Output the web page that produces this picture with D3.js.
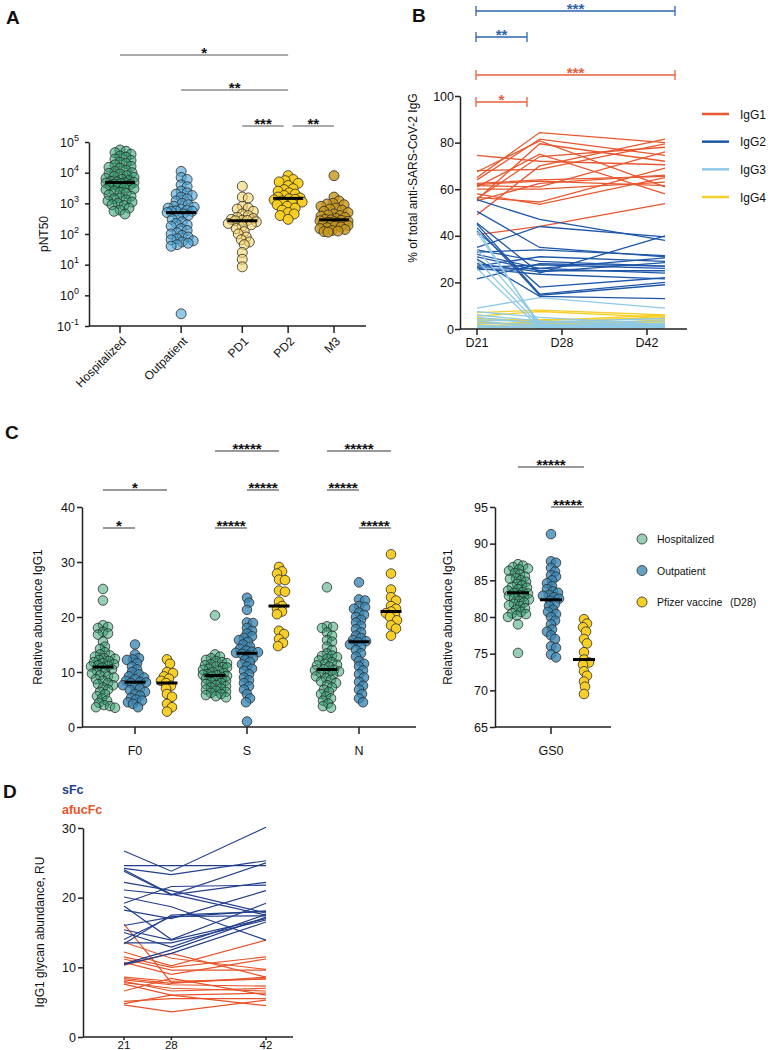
<!DOCTYPE html>
<html><head><meta charset="utf-8">
<script src="https://cdn.jsdelivr.net/npm/d3@7"></script>
<style>
body{margin:0;background:#fff}
svg{display:block}
text{font-family:"Liberation Sans",Arial,Helvetica,sans-serif;fill:#111}
</style>
</head><body>
<svg id="chart" width="771" height="1050"></svg>
<script>
// ================= DATA =================
// ---- Panel A (pNT50) ----
const aCategories = ["Hospitalized", "Outpatient", "PD1", "PD2", "M3"];
const aHospitalized = [55000, 50000, 45000, 40000, 35000, 32000, 28000, 25000, 22000, 20000, 18000, 16000, 15000, 14000, 12000, 11000, 10000, 9500, 9000, 8000, 7500, 7000, 6500, 6000, 5500, 5200, 5000, 4800, 4700, 4600, 4400, 4200, 4000, 3800, 3500, 3200, 3000, 2800, 2500, 2300, 2100, 1900, 1700, 1500, 1400, 1300, 1200, 1100, 1000, 900, 850, 700, 600, 550, 450];
const aOutpatient = [11000, 7000, 6000, 4000, 3500, 2500, 2200, 2000, 1800, 1600, 1400, 1200, 1000, 900, 800, 750, 700, 650, 600, 560, 550, 540, 500, 450, 400, 350, 300, 250, 220, 200, 180, 150, 130, 110, 100, 90, 80, 70, 65, 60, 55, 50, 45, 40, 0.25];
const aPD1 = [3600, 1600, 1500, 800, 700, 650, 550, 450, 400, 350, 320, 300, 280, 275, 270, 250, 220, 200, 180, 150, 120, 100, 80, 65, 55, 45, 25, 15, 8.5];
const aPD2 = [8000, 6000, 5500, 5000, 4500, 3800, 3000, 2800, 2500, 2200, 2000, 1800, 1600, 1500, 1400, 1350, 1300, 1200, 1100, 1000, 900, 800, 700, 600, 500, 450, 400, 300];
const aM3 = [8000, 1600, 1200, 1000, 950, 900, 800, 700, 650, 600, 550, 500, 450, 420, 400, 380, 350, 320, 300, 290, 280, 270, 260, 250, 240, 230, 220, 210, 200, 190, 180, 170, 160, 150, 140, 130, 125, 120, 115];
const aYTickExponents = [-1, 0, 1, 2, 3, 4, 5];
const aSignificance = [
  {from: "Hospitalized", to: "PD2", label: "*", level: 3},
  {from: "Outpatient", to: "PD2", label: "**", level: 2},
  {from: "PD1", to: "PD2", label: "***", level: 1},
  {from: "PD2", to: "M3", label: "**", level: 1}
];

// ---- Panel B (% of total anti-SARS-CoV-2 IgG; D21, D28, D42) ----
const bDays = ["D21", "D28", "D42"];
const bDayNumbers = [21, 28, 42];
const bSubclasses = ["IgG1", "IgG2", "IgG3", "IgG4"];
const bIgG1 = [[74.5,72.0,70.5],[68.0,68.5,79.5],[67.5,80.7,61.0],[65.0,84.3,80.0],[64.0,81.5,74.5],[62.5,64.0,65.5],[62.0,63.5,61.5],[61.0,75.0,58.0],[60.0,60.0,63.0],[56.0,74.0,78.0],[55.5,79.5,72.0],[55.0,62.5,66.0],[56.5,54.5,69.0],[49.0,70.0,81.5],[40.5,44.0,53.8],[58.0,53.5,65.0],[61.5,61.0,76.0]];
const bIgG2 = [[55.5,47.0,38.0],[50.5,35.0,31.0],[45.5,24.0,40.0],[45.0,15.0,20.0],[43.5,14.5,19.0],[42.0,18.0,22.0],[35.0,44.0,39.5],[34.0,29.0,27.0],[33.0,34.0,31.5],[32.0,26.0,30.5],[31.0,25.0,25.0],[30.0,14.0,13.0],[28.0,24.5,28.5],[27.0,31.0,29.0],[26.5,27.5,26.0],[26.0,23.5,21.5],[25.5,26.0,24.0],[21.5,28.0,27.0]];
const bIgG3 = [[43.0,1.0,0.5],[41.5,2.0,1.0],[34.0,3.0,2.0],[29.5,1.5,0.5],[26.0,0.5,1.5],[9.0,13.5,9.0],[7.5,5.0,2.0],[6.0,3.5,1.0],[5.0,2.5,3.5],[3.5,1.0,2.5],[2.5,2.0,0.5],[1.5,0.5,1.0],[1.0,1.5,2.0],[0.5,0.8,1.2],[4.0,3.0,4.5]];
const bIgG4 = [[7.0,8.1,6.0],[5.5,7.5,5.0],[4.5,3.5,6.0],[3.5,4.0,4.5],[2.5,2.0,5.5],[2.0,3.0,3.0],[1.5,1.0,4.0],[1.0,2.5,2.0],[3.0,1.5,1.0],[0.5,0.5,3.5]];
const bYTicks = [0, 20, 40, 60, 80, 100];
const bSignificance = [
  {from: 21, to: 42, label: "***", subclass: "IgG2", level: 4},
  {from: 21, to: 28, label: "**", subclass: "IgG2", level: 3},
  {from: 21, to: 42, label: "***", subclass: "IgG1", level: 2},
  {from: 21, to: 28, label: "*", subclass: "IgG1", level: 1}
];

// ---- Panel C (relative abundance IgG1) ----
const cAntigens = ["F0", "S", "N"];
const cGroups = ["Hospitalized", "Outpatient", "Pfizer vaccine"];
const cGroupNote = "(D28)";
const cF0Hospitalized = [25.1, 23.0, 18.5, 18.2, 18.0, 17.3, 17.0, 16.8, 15.5, 14.6, 14.2, 13.6, 13.2, 13.0, 12.8, 12.5, 12.4, 12.2, 12.0, 11.8, 11.6, 11.4, 11.2, 11.1, 11.0, 10.8, 10.5, 10.2, 10.0, 9.7, 9.4, 9.2, 9.0, 8.7, 8.4, 8.0, 7.8, 7.6, 7.2, 6.8, 6.4, 6.0, 5.6, 5.2, 4.8, 4.4, 4.0, 3.8, 3.6, 3.5];
const cF0Outpatient = [15.0, 13.2, 12.5, 12.3, 12.2, 11.6, 11.0, 10.5, 10.0, 9.6, 9.2, 9.0, 8.7, 8.4, 8.2, 8.1, 8.0, 7.6, 7.3, 7.0, 6.7, 6.4, 6.0, 5.7, 5.3, 5.0, 4.8, 4.5, 4.2, 3.6];
const cF0Pfizer = [12.3, 11.5, 10.0, 9.8, 9.2, 8.8, 8.4, 8.0, 7.5, 7.0, 6.0, 5.5, 4.2, 3.6, 2.8];
const cSHospitalized = [20.3, 13.2, 12.8, 12.5, 12.2, 12.0, 11.8, 11.6, 11.4, 11.2, 11.0, 10.9, 10.8, 10.6, 10.4, 10.2, 10.0, 9.8, 9.6, 9.5, 9.4, 9.3, 9.2, 9.0, 8.8, 8.6, 8.4, 8.2, 8.0, 7.8, 7.6, 7.4, 7.2, 7.0, 6.8, 6.6, 6.4, 6.2, 6.0, 5.8, 5.6, 5.4];
const cSOutpatient = [23.5, 22.6, 21.3, 19.0, 18.9, 18.0, 17.5, 17.0, 16.5, 16.2, 15.8, 15.5, 15.0, 14.6, 14.2, 13.9, 13.7, 13.6, 13.5, 13.3, 13.0, 12.6, 12.2, 11.8, 11.4, 11.0, 10.6, 10.2, 9.6, 9.0, 8.5, 8.0, 7.4, 6.8, 6.0, 5.2, 4.5, 1.0];
const cSPfizer = [29.1, 28.3, 27.9, 26.8, 26.7, 24.8, 24.6, 22.8, 22.0, 21.5, 21.0, 20.5, 17.5, 16.9, 16.0, 15.3, 14.7];
const cNHospitalized = [25.4, 18.3, 18.2, 18.0, 17.2, 16.6, 15.8, 15.5, 14.6, 14.0, 13.4, 13.0, 12.9, 12.7, 12.4, 12.1, 11.8, 11.5, 11.3, 11.2, 11.0, 10.5, 10.4, 10.3, 10.1, 9.8, 9.7, 9.5, 9.2, 8.9, 8.6, 8.3, 8.0, 7.6, 7.2, 6.8, 6.4, 6.0, 5.6, 5.2, 4.8, 4.3, 3.8, 3.5];
const cNOutpatient = [26.3, 23.2, 23.0, 22.0, 21.8, 21.5, 20.8, 20.4, 20.0, 19.5, 19.0, 18.4, 17.8, 17.2, 16.6, 16.2, 15.8, 15.6, 15.4, 15.0, 14.6, 14.0, 13.4, 12.8, 12.0, 11.5, 11.0, 10.3, 9.6, 9.0, 8.2, 7.5, 6.8, 6.0, 5.2, 4.5];
const cNPfizer = [31.4, 27.9, 25.0, 23.6, 23.0, 22.0, 21.5, 21.0, 20.7, 20.3, 20.0, 19.4, 18.5, 17.9, 16.6];
const cGS0Hospitalized = [87.2, 87.0, 86.8, 86.6, 86.5, 86.3, 86.0, 85.8, 85.5, 85.3, 85.2, 85.0, 84.8, 84.5, 84.3, 84.1, 84.0, 83.8, 83.6, 83.4, 83.3, 83.2, 83.0, 82.9, 82.8, 82.6, 82.4, 82.2, 82.0, 81.8, 81.6, 81.5, 81.2, 81.0, 80.7, 80.5, 80.4, 80.2, 80.0, 79.0, 75.1];
const cGS0Outpatient = [91.3, 87.6, 87.4, 86.7, 86.2, 85.7, 85.5, 85.0, 84.6, 84.2, 83.8, 83.5, 83.3, 83.0, 82.9, 82.7, 82.5, 82.2, 81.8, 81.5, 81.0, 80.7, 80.4, 80.0, 79.5, 79.0, 78.3, 78.0, 77.5, 77.0, 76.0, 75.8, 74.9, 74.5];
const cGS0Pfizer = [79.7, 79.1, 78.6, 78.0, 77.0, 76.4, 75.2, 74.2, 73.8, 73.5, 72.6, 72.0, 71.2, 70.5, 69.5];
const cLeftYTicks = [0, 10, 20, 30, 40];
const cRightYTicks = [65, 70, 75, 80, 85, 90, 95];
const cSignificance = [
  {antigen: "F0", from: 0, to: 1, label: "*", level: 1},
  {antigen: "F0", from: 0, to: 2, label: "*", level: 2},
  {antigen: "S", from: 0, to: 1, label: "*****", level: 1},
  {antigen: "S", from: 1, to: 2, label: "*****", level: 2},
  {antigen: "S", from: 0, to: 2, label: "*****", level: 3},
  {antigen: "N", from: 1, to: 2, label: "*****", level: 1},
  {antigen: "N", from: 0, to: 1, label: "*****", level: 2},
  {antigen: "N", from: 0, to: 2, label: "*****", level: 3},
  {antigen: "GS0", from: 1, to: 2, label: "*****", level: 1},
  {antigen: "GS0", from: 0, to: 2, label: "*****", level: 2}
];

// ---- Panel D (IgG1 glycan abundance, RU; days 21, 28, 42) ----
const dDays = [21, 28, 42];
const dSFc = [[26.7,23.8,30.1],[24.6,24.6,24.6],[24.2,23.3,25.3],[24.0,20.5,17.5],[23.8,20.4,25.0],[22.2,21.0,17.8],[21.1,20.4,22.2],[20.1,18.7,13.9],[19.2,21.6,21.8],[18.8,14.0,19.2],[18.2,17.0,21.0],[16.0,17.2,18.1],[15.4,13.9,17.0],[15.0,12.9,17.6],[14.0,17.3,17.4],[13.5,13.5,16.8],[13.4,17.5,18.0],[10.5,12.5,17.2],[10.4,12.0,16.5]];
const dAfucFc = [[16.2,7.8,8.4],[13.6,11.3,9.7],[12.2,10.2,13.9],[11.5,10.0,11.5],[11.2,9.6,9.6],[10.7,9.0,11.2],[10.3,12.0,8.6],[8.6,8.0,8.3],[8.4,7.7,8.6],[8.2,7.5,7.3],[8.0,6.6,7.0],[7.8,7.0,6.6],[7.6,6.0,6.3],[6.6,8.4,6.0],[5.1,5.5,5.5],[4.8,6.0,4.5],[4.6,3.6,5.3]];
const dYTicks = [0, 10, 20, 30];

// ================= DRAWING =================
const svg = d3.select("#chart");
const AXC = "#231f20";
const STROKE = "#2b2b2b";

function panelLetter(x, y, t) {
  svg.append("text").attr("x", x).attr("y", y).attr("font-size", 19).attr("font-weight", "bold").text(t);
}
function hLine(g, x1, x2, y, color, w) {
  g.append("line").attr("x1", x1).attr("x2", x2).attr("y1", y).attr("y2", y).attr("stroke", color).attr("stroke-width", w);
}
function vLine(g, x, y1, y2, color, w) {
  g.append("line").attr("x1", x).attr("x2", x).attr("y1", y1).attr("y2", y2).attr("stroke", color).attr("stroke-width", w);
}
function starText(g, x, y, label, color) {
  g.append("text").attr("x", x).attr("y", y).attr("text-anchor", "middle").attr("font-size", 15)
   .attr("font-weight", "bold").style("fill", color).text(label);
}
// deterministic beeswarm offsets
function swarm(values, yScale, maxW, minD) {
  const items = values.map((v, i) => ({v, y: yScale(v), i, x: 0}));
  const sorted = items.slice().sort((a, b) => a.y - b.y);
  const placed = [];
  for (const it of sorted) {
    const cands = [0];
    for (let k = 1; k <= maxW; k += 1) cands.push(k, -k);
    let best = 0, bestScore = -Infinity;
    for (const c of cands) {
      let md = Infinity;
      for (const p of placed) {
        const dy = p.y - it.y;
        if (Math.abs(dy) >= minD) continue;
        const d = Math.hypot(p.x - c, dy);
        if (d < md) md = d;
      }
      if (md >= minD) { best = c; bestScore = md; break; }
      if (md > bestScore) { bestScore = md; best = c; }
    }
    it.x = best;
    placed.push(it);
  }
  return items;
}
function dots(g, values, cx, yScale, style, r, maxW, minD, medHalf) {
  const pts = swarm(values, yScale, maxW, minD);
  g.append("g").selectAll("circle").data(pts).join("circle")
    .attr("cx", d => cx + d.x).attr("cy", d => d.y).attr("r", r)
    .attr("fill", style.fill).attr("fill-opacity", style.op)
    .attr("stroke", STROKE).attr("stroke-width", 0.8);
  const med = d3.median(values);
  hLine(g, cx - medHalf, cx + medHalf, yScale(med), "#000", 3);
}

// ---------------- Panel A ----------------
(function () {
  const g = svg.append("g");
  panelLetter(6, 24, "A");
  const yA = d3.scaleLog().domain([0.1, 1e5]).range([326, 142]);
  const slot = {Hospitalized: 0, Outpatient: 1, PD1: 2, PD2: 2.75, M3: 3.5};
  const xA = d3.scaleLinear().domain([0, 3.5]).range([120, 334]);
  const cx = c => xA(slot[c]);
  const styles = {
    Hospitalized: {fill: "#2e9e6e", op: 0.55},
    Outpatient: {fill: "#4aa3d6", op: 0.6},
    PD1: {fill: "#f5d36a", op: 0.6},
    PD2: {fill: "#f9cf1c", op: 0.95},
    M3: {fill: "#c8961a", op: 0.8}
  };
  const series = {Hospitalized: aHospitalized, Outpatient: aOutpatient, PD1: aPD1, PD2: aPD2, M3: aM3};
  const ax = g.append("g").attr("transform", "translate(89,0)")
    .call(d3.axisLeft(yA).tickValues(aYTickExponents.map(e => Math.pow(10, e))).tickFormat("").tickSize(4).tickSizeOuter(0));
  ax.select(".domain").attr("stroke", AXC).attr("stroke-width", 1.5);
  ax.selectAll(".tick line").attr("stroke", AXC).attr("stroke-width", 1.5);
  aYTickExponents.forEach(e => {
    const t = g.append("text").attr("x", 79).attr("y", yA(Math.pow(10, e)) + 4.5).attr("text-anchor", "end").attr("font-size", 12.5);
    t.append("tspan").text("10");
    t.append("tspan").attr("dy", -6).attr("font-size", 9).text(String(e));
  });
  hLine(g, 89, 366, 326, AXC, 1.5);
  aCategories.forEach(c => {
    vLine(g, cx(c), 326, 333, AXC, 1.5);
    g.append("text").attr("transform", `translate(${cx(c) + 4},${339}) rotate(-45)`)
      .attr("text-anchor", "end").attr("dy", "0.35em").attr("font-size", 12).text(c);
  });
  g.append("text").attr("transform", "translate(48,234) rotate(-90)").attr("text-anchor", "middle")
    .attr("font-size", 12).text("pNT50");
  aCategories.forEach(c => dots(g, series[c], cx(c), yA, styles[c], 5, 14, 5.6, 15));
  const levelY = {1: 126, 2: 90, 3: 55};
  aSignificance.forEach(s => {
    let x1 = cx(s.from), x2 = cx(s.to);
    const shares = (pt, self) => aSignificance.some(o => o !== self && o.level === self.level && (o.from === pt || o.to === pt));
    if (shares(s.from, s)) x1 += 4.5;
    if (shares(s.to, s)) x2 -= 4.5;
    const y = levelY[s.level];
    hLine(g, x1, x2, y, "#555", 1.2);
    starText(g, (x1 + x2) / 2, y + 2.5, s.label, "#111");
  });
})();

// ---------------- Panel B ----------------
(function () {
  const g = svg.append("g");
  panelLetter(412, 22, "B");
  const yB = d3.scaleLinear().domain([0, 100]).range([329, 96]);
  const xAxisB = d3.scalePoint().domain(bDays).range([477, 647]);
  const xLineB = d3.scaleLinear().domain([21, 42]).range([477, 665]);
  const xBracket = d3.scaleLinear().domain([21, 28, 42]).range([476, 527, 675]);
  const colors = {IgG1: "#e8572f", IgG2: "#1f57a8", IgG3: "#8ecae6", IgG4: "#f7cf2b"};
  const sigColors = {IgG1: "#e8603c", IgG2: "#2e64b0"};
  const data = {IgG1: bIgG1, IgG2: bIgG2, IgG3: bIgG3, IgG4: bIgG4};
  const line = d3.line().x((d, i) => xLineB(bDayNumbers[i])).y(d => yB(d));
  ["IgG1", "IgG2", "IgG4", "IgG3"].forEach(k => {
    g.append("g").selectAll("path").data(data[k]).join("path")
      .attr("d", line).attr("fill", "none").attr("stroke", colors[k]).attr("stroke-width", 1.3);
  });
  const ay = g.append("g").attr("transform", "translate(460,0)")
    .call(d3.axisLeft(yB).tickValues(bYTicks).tickSize(5).tickSizeOuter(0));
  ay.select(".domain").attr("stroke", AXC).attr("stroke-width", 1.5);
  ay.selectAll(".tick line").attr("stroke", AXC).attr("stroke-width", 1.5);
  ay.selectAll(".tick text").attr("font-size", 12.5).attr("font-family", "Liberation Sans, Arial, sans-serif").attr("x", -6).style("fill", "#111");
  hLine(g, 460, 687, 329, AXC, 1.5);
  bDays.forEach(d => {
    vLine(g, xAxisB(d), 329, 335, AXC, 1.5);
    g.append("text").attr("x", xAxisB(d)).attr("y", 347).attr("text-anchor", "middle").attr("font-size", 12.5).text(d);
  });
  g.append("text").attr("transform", "translate(417,178) rotate(-90)").attr("text-anchor", "middle")
    .attr("font-size", 12).text("% of total anti-SARS-CoV-2 IgG");
  const levelY = {1: 102, 2: 75, 3: 37, 4: 11};
  bSignificance.forEach(s => {
    const y = levelY[s.level], c = sigColors[s.subclass];
    const x1 = xBracket(s.from), x2 = xBracket(s.to);
    hLine(g, x1, x2, y, c, 1.3);
    vLine(g, x1, y - 5, y + 5, c, 1.3);
    vLine(g, x2, y - 5, y + 5, c, 1.3);
    starText(g, (x1 + x2) / 2, y + 3, s.label, c);
  });
  const lg = d3.scalePoint().domain(bSubclasses).range([114, 197]);
  bSubclasses.forEach(k => {
    hLine(g, 702, 729, lg(k), colors[k], 2.5);
    g.append("text").attr("x", 740).attr("y", lg(k) + 4.5).attr("font-size", 12).text(k);
  });
})();

// ---------------- Panel C ----------------
(function () {
  const g = svg.append("g");
  panelLetter(5, 439, "C");
  const yL = d3.scaleLinear().domain([0, 40]).range([727, 507]);
  const yR = d3.scaleLinear().domain([65, 95]).range([727, 507]);
  const xAg = d3.scalePoint().domain(cAntigens).range([135, 359]);
  const xGrp = d3.scalePoint().domain([0, 1, 2]).range([-32, 32]);
  const xGS0 = 551, xGrpR = d3.scalePoint().domain([0, 1, 2]).range([-33, 33]);
  const styles = [{fill: "#2e9e6e", op: 0.5}, {fill: "#3a86b4", op: 0.78}, {fill: "#f8cf26", op: 1}];
  const series = {
    F0: [cF0Hospitalized, cF0Outpatient, cF0Pfizer],
    S: [cSHospitalized, cSOutpatient, cSPfizer],
    N: [cNHospitalized, cNOutpatient, cNPfizer]
  };
  const gs0 = [cGS0Hospitalized, cGS0Outpatient, cGS0Pfizer];
  function yAxis(x, scale, ticks) {
    const a = g.append("g").attr("transform", `translate(${x},0)`)
      .call(d3.axisLeft(scale).tickValues(ticks).tickSize(5).tickSizeOuter(0));
    a.select(".domain").attr("stroke", AXC).attr("stroke-width", 1.5);
    a.selectAll(".tick line").attr("stroke", AXC).attr("stroke-width", 1.5);
    a.selectAll(".tick text").attr("font-size", 12.5).attr("font-family", "Liberation Sans, Arial, sans-serif").attr("x", -7).style("fill", "#111");
  }
  yAxis(82, yL, cLeftYTicks);
  yAxis(495, yR, cRightYTicks);
  hLine(g, 82, 416, 727, AXC, 1.5);
  hLine(g, 495, 611, 727, AXC, 1.5);
  cAntigens.forEach(a => {
    vLine(g, xAg(a), 727, 734, AXC, 1.5);
    g.append("text").attr("x", xAg(a)).attr("y", 755).attr("text-anchor", "middle").attr("font-size", 12.5).text(a);
  });
  vLine(g, xGS0, 727, 734, AXC, 1.5);
  g.append("text").attr("x", xGS0).attr("y", 755).attr("text-anchor", "middle").attr("font-size", 12.5).text("GS0");
  [[42, 617], [452, 617]].forEach(([x, y]) => {
    g.append("text").attr("transform", `translate(${x},${y}) rotate(-90)`).attr("text-anchor", "middle")
      .attr("font-size", 12).text("Relative abundance IgG1");
  });
  cAntigens.forEach(a => series[a].forEach((vals, i) =>
    dots(g, vals, xAg(a) + xGrp(i), yL, styles[i], 4.8, 12, 5.2, 10.5)));
  gs0.forEach((vals, i) => dots(g, vals, xGS0 + xGrpR(i), yR, styles[i], 4.8, 12, 5.2, 11));
  const levL = {1: 528, 2: 490, 3: 451}, levR = {1: 507, 2: 467};
  cSignificance.forEach(s => {
    let x1, x2, y;
    if (s.antigen === "GS0") { x1 = xGS0 + xGrpR(s.from); x2 = xGS0 + xGrpR(s.to); y = levR[s.level]; }
    else { x1 = xAg(s.antigen) + xGrp(s.from); x2 = xAg(s.antigen) + xGrp(s.to); y = levL[s.level]; }
    hLine(g, x1, x2, y, "#777", 1.5);
    starText(g, (x1 + x2) / 2, y + 2.5, s.label, "#111");
  });
  const lgY = d3.scalePoint().domain([0, 1, 2]).range([539, 602]);
  cGroups.forEach((name, i) => {
    g.append("circle").attr("cx", 642).attr("cy", lgY(i)).attr("r", 5).attr("fill", styles[i].fill)
      .attr("fill-opacity", styles[i].op).attr("stroke", STROKE).attr("stroke-width", 0.8);
    g.append("text").attr("x", 657).attr("y", lgY(i) + 4).attr("font-size", 10.5).text(name);
    if (i === 2) g.append("text").attr("x", 730).attr("y", lgY(i) + 4).attr("font-size", 10.5).text(cGroupNote);
  });
})();

// ---------------- Panel D ----------------
(function () {
  const g = svg.append("g");
  panelLetter(3, 798, "D");
  g.append("text").attr("x", 62).attr("y", 794).attr("font-size", 12.5).attr("font-weight", "bold").style("fill", "#233f8c").text("sFc");
  g.append("text").attr("x", 62).attr("y", 814).attr("font-size", 12.5).attr("font-weight", "bold").style("fill", "#e8542a").text("afucFc");
  const yD = d3.scaleLinear().domain([0, 30]).range([1037, 828]);
  const xD = d3.scaleLinear().domain([21, 42]).range([124, 266]);
  const line = d3.line().x((d, i) => xD(dDays[i])).y(d => yD(d));
  g.append("g").selectAll("path").data(dAfucFc).join("path").attr("d", line)
    .attr("fill", "none").attr("stroke", "#e8542a").attr("stroke-width", 1.2);
  g.append("g").selectAll("path").data(dSFc).join("path").attr("d", line)
    .attr("fill", "none").attr("stroke", "#233f8c").attr("stroke-width", 1.2);
  const a = g.append("g").attr("transform", "translate(83,0)")
    .call(d3.axisLeft(yD).tickValues(dYTicks).tickSize(5).tickSizeOuter(0));
  a.select(".domain").attr("stroke", AXC).attr("stroke-width", 1.5);
  a.selectAll(".tick line").attr("stroke", AXC).attr("stroke-width", 1.5);
  a.selectAll(".tick text").attr("font-size", 12.5).attr("font-family", "Liberation Sans, Arial, sans-serif").attr("x", -7).style("fill", "#111");
  hLine(g, 83, 293, 1037, AXC, 1.5);
  dDays.forEach(d => {
    vLine(g, xD(d), 1037, 1040, AXC, 1.5);
    g.append("text").attr("x", xD(d)).attr("y", 1049).attr("text-anchor", "middle").attr("font-size", 11.5).text(d);
  });
  g.append("text").attr("transform", "translate(44,932) rotate(-90)").attr("text-anchor", "middle")
    .attr("font-size", 12).text("IgG1 glycan abundance, RU");
})();
</script>
</body></html>
